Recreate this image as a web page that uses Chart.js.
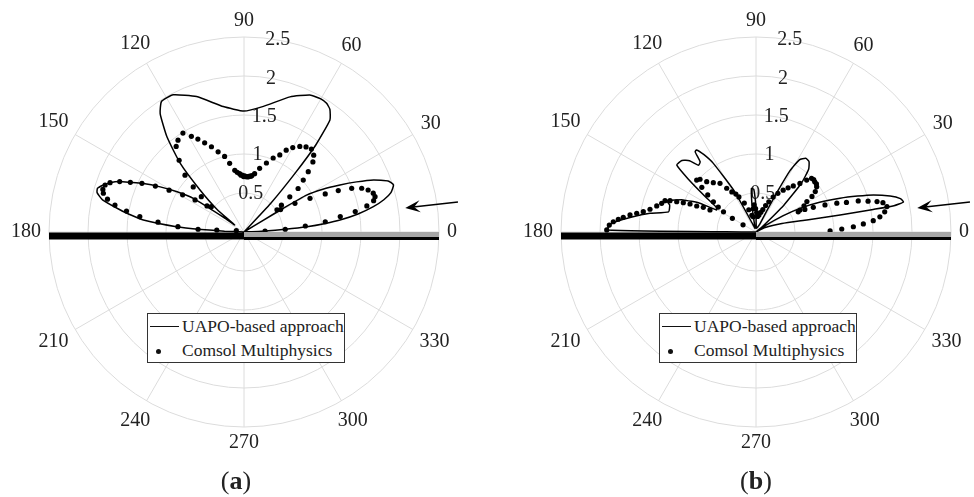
<!DOCTYPE html>
<html>
<head>
<meta charset="utf-8">
<script src="https://cdn.jsdelivr.net/npm/chart.js@4.4.0/dist/chart.umd.min.js"></script>
<style>
  body { margin: 0; background: #fff; width: 974px; height: 497px; overflow: hidden; position: relative;
         font-family: "Liberation Serif", "Times New Roman", serif; color: #222; }
  .panel { position: absolute; top: 0; width: 487px; height: 497px; }
  #pa { left: 0; }
  #pb { left: 487px; }
  .legend { position: absolute; top: 313px; width: 198px; height: 50px; border: 1px solid #333;
            background: #fff; font-size: 17.5px; line-height: 24px; box-sizing: border-box; }
  .legend .row { position: absolute; left: 34px; white-space: nowrap; }
  .legend .ln { position: absolute; left: 2px; top: 12px; width: 29px; border-top: 1.5px solid #111; }
  .legend .dt { position: absolute; left: 8px; top: 35px; width: 5px; height: 5px; border-radius: 50%; background: #111; }
  .caption { position: absolute; top: 466px; width: 60px; text-align: center; font-size: 26px; }
</style>
</head>
<body>
<div class="panel" id="pa">
  <canvas id="chartA" width="487" height="497"></canvas>
  <div class="legend" style="left:147px"><span class="ln"></span><span class="dt"></span>
    <div class="row" style="top:0px" id="la1"></div><div class="row" style="top:24px" id="la2"></div></div>
  <div class="caption" style="left:206px">(<b>a</b>)</div>
</div>
<div class="panel" id="pb">
  <canvas id="chartB" width="487" height="497"></canvas>
  <div class="legend" style="left:172px"><span class="ln"></span><span class="dt"></span>
    <div class="row" style="top:0px" id="lb1"></div><div class="row" style="top:24px" id="lb2"></div></div>
  <div class="caption" style="left:239px">(<b>b</b>)</div>
</div>
<script>
// polar grid
const gridRadii = [0.5, 1, 1.5, 2, 2.5];
const angleTicks = [0, 30, 60, 90, 120, 150, 180, 210, 240, 270, 300, 330];
const rMax = 2.5;
const seriesNames = ['UAPO-based approach', 'Comsol Multiphysics'];

// panel (a): UAPO curve, angle in degrees and radius
const uapoA_deg = [0, 2, 2.7, 3.8, 4.8, 6, 7.1, 9, 11.1, 13, 15, 17.5, 19.5, 21.9, 24, 26.1, 28.5, 30.5, 31.1, 31.5, 32,
  44, 47, 49, 50.5, 52.5, 55, 57.3, 60, 64.3, 71.2, 81.2, 90, 99.4, 109.3, 117.3, 122.3, 125.3, 129, 132.9, 136.3, 140, 143,
  144, 146.4, 149, 151.7, 154.5, 156.4, 157.9, 159.8, 161.5, 163.4, 165, 167.2, 169.9, 171.6, 173.2, 175.5, 176.6, 177.5, 180];
const uapoA_r = [0, 0.1, 0.27, 0.53, 0.81, 1.05, 1.24, 1.48, 1.69, 1.84, 1.95, 2.01, 1.96, 1.79, 1.58, 1.37, 1.15, 0.93, 0.59, 0.3, 0,
  0, 0.5, 1.0, 1.45, 1.81, 1.92, 1.96, 1.97, 1.95, 1.83, 1.63, 1.55, 1.63, 1.84, 1.98, 1.98, 1.86, 1.57, 1.2, 0.78, 0.45, 0.15,
  0.3, 0.78, 1.0, 1.22, 1.45, 1.59, 1.72, 1.83, 1.9, 1.96, 1.95, 1.86, 1.61, 1.45, 1.3, 0.87, 0.55, 0.25, 0];

// panel (a): Comsol samples
const comsolA_deg = [2.7, 3.8, 5.6, 7.2, 9.1, 10.4, 12, 13.6, 15.1, 16.7, 18.7, 20.4, 22.1, 23.7, 25.1, 27, 29.4, 31.5,
  34, 35.6, 37.5, 38.8, 41.2, 43.2, 45.5, 47.8, 50.9, 53.9, 56.9, 60, 62.7, 65.1, 68.5, 72, 76.2, 79.7, 82, 84.2, 86.7, 89.3,
  91.8, 94.3, 98.5, 101.8, 104.4, 107.9, 110.9, 113.8, 116.4, 118.8, 121.7, 125.7, 128.4, 132.1, 136.1, 138.4, 140.4, 142.3,
  144.8, 146.8, 148.8, 150.8, 152.6, 154.5, 156.4, 157.9, 159.8, 161.3, 163.2, 164.6, 166.5, 168.2, 169.9, 171.6, 173.5,
  175.4, 176.6, 175.8, 170, 83, 85.5, 88, 90.5, 93, 96.5];
const comsolA_r = [0.27, 0.53, 0.79, 1.05, 1.25, 1.45, 1.61, 1.71, 1.74, 1.73, 1.68, 1.61, 1.49, 1.32, 1.15, 0.95, 0.75, 0.55,
  0.51, 0.59, 0.74, 0.89, 1.01, 1.13, 1.26, 1.33, 1.37, 1.35, 1.31, 1.25, 1.18, 1.09, 1.02, 0.93, 0.84, 0.76, 0.73, 0.72, 0.71, 0.72,
  0.73, 0.75, 0.8, 0.9, 1.0, 1.08, 1.17, 1.25, 1.33, 1.4, 1.49, 1.45, 1.4, 1.24, 1.05, 0.87, 0.71, 0.53,
  0.58, 0.75, 0.92, 1.1, 1.28, 1.45, 1.59, 1.72, 1.83, 1.88, 1.89, 1.87, 1.8, 1.69, 1.53, 1.35, 1.11,
  0.85, 0.59, 0.35, 0.1, 0.72, 0.71, 0.71, 0.71, 0.73, 0.77];

// panel (b): UAPO curve
const uapoB_deg = [0, 26, 18, 13.3, 11.4, 10.9, 10.8, 11.5, 13, 15, 17.5, 19.5, 21.9, 25, 28.3, 31, 34, 36,
  40, 44, 47, 50, 53, 56, 59, 61, 62, 63, 65,
  85, 90, 93, 96, 99, 105,
  112, 118, 121.9, 124, 126, 127.2, 128.5, 130.7, 133, 136, 139.8, 142, 145, 148, 150.8,
  152.9, 156.2, 160.7, 162.6, 167, 170, 172.9, 176.5, 179.2, 180];
const uapoB_r = [0, 0.13, 0.35, 0.67, 1.1, 1.53, 1.8, 1.93, 1.9, 1.78, 1.58, 1.38, 1.16, 0.9, 0.64, 0.4, 0.15, 0,
  0.1, 0.5, 0.85, 1.05, 1.13, 1.14, 1.08, 0.9, 0.6, 0.3, 0.1,
  0.05, 0.3, 0.55, 0.56, 0.3, 0.05,
  0.1, 0.6, 1.04, 1.2, 1.3, 1.29, 1.15, 1.13, 1.25, 1.32, 1.33, 1.1, 0.8, 0.6, 0.58,
  0.81, 1.02, 1.21, 1.16, 1.15, 1.38, 1.59, 1.85, 1.91, 0];

// panel (b): Comsol samples
const comsolB_deg = [0.8, 2, 3.1, 4.3, 5.5, 7, 8.9, 11, 13, 14.1, 15.4, 16.9, 18.1, 19.6, 21.4, 23.3, 24.8, 25.6,
  26.6, 28.5, 30.9, 32.4, 34.3, 36.7, 38.5, 40.5, 42.3, 44, 45.7, 47.9, 51, 54, 57, 60.5, 63.9, 67, 70, 73, 76, 80, 84,
  88, 91, 94, 97, 100, 104, 108, 112, 116, 118, 121.1, 123.8, 126.5, 130.9, 134.4, 136.7, 138.8,
  140.5, 142.5, 144.6, 146.5, 148.2, 150, 151,
  154.4, 154.9, 156.3, 157, 158, 159.1, 160, 161, 163.1, 165.3, 167.9, 169.8, 171.1, 172.3, 173.7, 174.7, 175.9, 177.3, 179.2];
const comsolB_r = [0.95, 1.1, 1.25, 1.38, 1.51, 1.6, 1.67, 1.71, 1.67, 1.6, 1.49, 1.37, 1.22, 1.1, 0.95, 0.8, 0.69, 0.6,
  0.63, 0.7, 0.76, 0.85, 0.92, 0.97, 0.99, 0.99, 1.0, 0.99, 0.93, 0.84, 0.76, 0.7, 0.64, 0.57, 0.5, 0.42, 0.36, 0.3, 0.26, 0.22, 0.2,
  0.25, 0.3, 0.35, 0.3, 0.2, 0.22, 0.3, 0.4, 0.5, 0.55, 0.6, 0.675, 0.776, 0.836, 0.903, 0.986, 1.011,
  0.9, 0.78, 0.67, 0.58, 0.49, 0.35, 0.19,
  0.654, 0.746, 0.83, 0.919, 1.005, 1.088, 1.173, 1.234, 1.264, 1.316, 1.39, 1.468, 1.548, 1.63, 1.712, 1.773, 1.834, 1.883, 1.914];

// arrow marker: tail and tip, polar
const arrowDeg = [8, 8.5];
const arrowR = [2.77, 2.09];

function toXY(deg, r) {
  return deg.map((d, i) => ({ x: r[i] * Math.cos(d * Math.PI / 180), y: r[i] * Math.sin(d * Math.PI / 180) }));
}

const polarGrid = {
  id: 'polarGrid',
  beforeDatasetsDraw(chart) {
    const ctx = chart.ctx;
    const xs = chart.scales.x, ys = chart.scales.y;
    const cx = xs.getPixelForValue(0), cy = ys.getPixelForValue(0);
    const px = v => xs.getPixelForValue(v) - cx;
    ctx.save();
    ctx.strokeStyle = '#dcdcdc';
    ctx.lineWidth = 1;
    gridRadii.forEach(r => {
      ctx.beginPath();
      ctx.arc(cx, cy, px(r), 0, 2 * Math.PI);
      ctx.stroke();
    });
    angleTicks.forEach(a => {
      const t = a * Math.PI / 180;
      ctx.beginPath();
      ctx.moveTo(cx, cy);
      ctx.lineTo(cx + px(rMax) * Math.cos(t), cy - px(rMax) * Math.sin(t));
      ctx.stroke();
    });
    ctx.fillStyle = '#222';
    ctx.font = '20px "Liberation Serif"';
    ctx.textAlign = 'center';
    ctx.textBaseline = 'middle';
    angleTicks.forEach(a => {
      const t = a * Math.PI / 180;
      const w = ctx.measureText(String(a)).width;
      const d = px(rMax) + 8 + Math.abs(Math.cos(t)) * w / 2 + Math.abs(Math.sin(t)) * 8;
      ctx.fillText(String(a), cx + d * Math.cos(t), cy - d * Math.sin(t));
    });
    const tt = 80 * Math.PI / 180;
    gridRadii.forEach(r => {
      ctx.fillText(String(r), cx + px(r) * Math.cos(tt), cy - px(r) * Math.sin(tt));
    });
    ctx.restore();
  },
  afterDatasetsDraw(chart) {
    const ctx = chart.ctx;
    const xs = chart.scales.x, ys = chart.scales.y;
    const cx = xs.getPixelForValue(0), cy = ys.getPixelForValue(0);
    const left = xs.getPixelForValue(-rMax), right = xs.getPixelForValue(rMax);
    ctx.save();
    // strip along 180..0
    ctx.fillStyle = '#000';
    ctx.fillRect(left, cy + 0.5, cx - left, 7);
    ctx.fillRect(cx, cy + 5, right - cx, 3);
    ctx.fillStyle = '#a6a6a6';
    ctx.fillRect(cx, cy, right - cx, 5);
    // arrow
    const p = toXY(arrowDeg, arrowR).map(q => ({ x: xs.getPixelForValue(q.x), y: ys.getPixelForValue(q.y) }));
    const ang = Math.atan2(p[1].y - p[0].y, p[1].x - p[0].x);
    const L = 15, W = 6;
    ctx.strokeStyle = '#000';
    ctx.lineWidth = 1.6;
    ctx.beginPath();
    ctx.moveTo(p[0].x, p[0].y);
    ctx.lineTo(p[1].x - Math.cos(ang) * 8, p[1].y - Math.sin(ang) * 8);
    ctx.stroke();
    ctx.fillStyle = '#000';
    ctx.beginPath();
    ctx.moveTo(p[1].x, p[1].y);
    ctx.lineTo(p[1].x - L * Math.cos(ang) + W * Math.sin(ang), p[1].y - L * Math.sin(ang) - W * Math.cos(ang));
    ctx.lineTo(p[1].x - 0.6 * L * Math.cos(ang), p[1].y - 0.6 * L * Math.sin(ang));
    ctx.lineTo(p[1].x - L * Math.cos(ang) - W * Math.sin(ang), p[1].y - L * Math.sin(ang) + W * Math.cos(ang));
    ctx.closePath();
    ctx.fill();
    ctx.restore();
  }
};

function makeChart(id, uapo, comsol, pad) {
  return new Chart(document.getElementById(id), {
    type: 'scatter',
    data: {
      datasets: [
        { label: seriesNames[0], data: uapo, showLine: true, borderColor: '#000', borderWidth: 1.5,
          pointRadius: 0, tension: 0.15 },
        { label: seriesNames[1], data: comsol, showLine: false, pointRadius: 2.6,
          backgroundColor: '#000', borderWidth: 0 }
      ]
    },
    options: {
      responsive: false,
      animation: false,
      layout: { padding: pad },
      plugins: { legend: { display: false }, tooltip: { enabled: false } },
      scales: {
        x: { type: 'linear', min: -rMax, max: rMax, display: false },
        y: { type: 'linear', min: -rMax, max: rMax, display: false }
      }
    },
    plugins: [polarGrid]
  });
}

document.getElementById('la1').textContent = seriesNames[0];
document.getElementById('la2').textContent = seriesNames[1];
document.getElementById('lb1').textContent = seriesNames[0];
document.getElementById('lb2').textContent = seriesNames[1];

makeChart('chartA', toXY(uapoA_deg, uapoA_r), toXY(comsolA_deg, comsolA_r), { left: 49, right: 48, top: 37, bottom: 70 });
makeChart('chartB', toXY(uapoB_deg, uapoB_r), toXY(comsolB_deg, comsolB_r), { left: 74, right: 23, top: 37, bottom: 70 });
</script>
</body>
</html>
